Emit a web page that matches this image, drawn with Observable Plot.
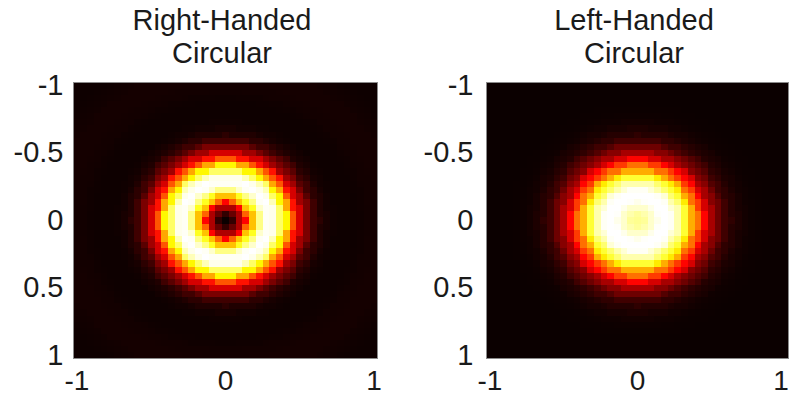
<!DOCTYPE html>
<html>
<head>
<meta charset="utf-8">
<script src="https://cdn.jsdelivr.net/npm/d3@7"></script>
<script src="https://cdn.jsdelivr.net/npm/@observablehq/plot@0.6"></script>
<style>
  html, body { margin: 0; padding: 0; background: #fff; }
  #wrap { position: relative; width: 791px; height: 398px; overflow: hidden; font-family: "Liberation Sans", Arial, sans-serif; }
  .title { position: absolute; text-align: center; font-size: 29px; line-height: 32.5px; color: #1a1a1a; white-space: nowrap; }
  .panel { position: absolute; top: 0; }
  .panel svg { overflow: visible; }
</style>
</head>
<body>
<div id="wrap"></div>
<script>
// Panel titles
const titles = ["Right-Handed\nCircular", "Left-Handed\nCircular"];
// Tick labels
const yTicks = [-1, -0.5, 0, 0.5, 1];
const xTicks = [-1, 0, 1];
const radiusStep = 0.025;
const rightHandedProfile = [
  0.00, 0.02, 0.06, 0.14, 0.25, 0.38, 0.52, 0.66, 0.78, 0.88,
  0.95, 0.99, 1.00, 0.98, 0.93, 0.85, 0.74, 0.62, 0.50, 0.40,
  0.31, 0.23, 0.17, 0.12, 0.08, 0.05, 0.032, 0.02, 0.012, 0.007,
  0.005, 0.004, 0.004, 0.004, 0.004, 0.005, 0.006, 0.008, 0.010, 0.012,
  0.013, 0.014, 0.015, 0.016, 0.016, 0.016, 0.015, 0.013, 0.011, 0.009,
  0.008, 0.006, 0.005, 0.004, 0.004, 0.004, 0.004, 0.004, 0.004, 0.004];
const leftHandedProfile = [
  0.89, 0.89, 0.90, 0.92, 0.95, 0.98, 0.995, 1.00, 1.00, 0.99,
  0.96, 0.92, 0.86, 0.80, 0.72, 0.63, 0.54, 0.46, 0.38, 0.31,
  0.24, 0.19, 0.15, 0.11, 0.08, 0.055, 0.04, 0.028, 0.02, 0.013,
  0.008, 0.005, 0.003, 0.002, 0.001, 0, 0, 0, 0, 0,
  0, 0, 0, 0, 0, 0, 0, 0, 0, 0,
  0, 0, 0, 0, 0, 0, 0, 0, 0, 0];
// Image grid
const gridN = 45;
const half = 1 + 1 / (gridN - 1);

function gridFromProfile(profile) {
  const vals = [];
  for (let j = 0; j < gridN; j++) {
    const y = -1 + j * 2 / (gridN - 1);
    for (let i = 0; i < gridN; i++) {
      const x = -1 + i * 2 / (gridN - 1);
      const r = Math.hypot(x, y);
      const k = Math.min(profile.length - 1, Math.round(r / radiusStep));
      vals.push(profile[k]);
    }
  }
  return vals;
}

const hot = {
  type: "linear",
  domain: [0, 0.375, 0.75, 1],
  range: ["#0b0000", "#ff0000", "#ffff00", "#ffffff"],
  interpolate: "rgb"
};

function panel(values, opts) {
  const axisCommon = { tickFormat: d => String(d), tickSize: 0, tickPadding: 12, fontSize: 28, label: null };
  return Plot.plot({
    width: opts.width,
    height: 398,
    marginLeft: opts.ml,
    marginRight: opts.mr,
    marginTop: 82,
    marginBottom: 40,
    style: { fontFamily: "'Liberation Sans', Arial, sans-serif", fontSize: "28px", color: "#1a1a1a", background: "transparent" },
    x: { domain: [-half, half], label: null },
    y: { domain: [-half, half], reverse: true, label: null },
    color: hot,
    marks: [
      Plot.raster(values, {
        width: gridN, height: gridN,
        x1: -half, x2: half, y1: -half, y2: half,
        fill: d => d,
        imageRendering: "pixelated"
      }),
      Plot.frame({ stroke: "#8a8a8a", strokeWidth: 1 }),
      Plot.axisX({ ...axisCommon, ticks: xTicks.slice(0, -1) }),
      Plot.axisX({ ...axisCommon, ticks: xTicks.slice(-1), dx: opts.lastDx }),
      Plot.axisY({ ticks: yTicks, tickFormat: d => String(d), tickSize: 0, tickPadding: opts.yp, fontSize: 29, label: null })
    ]
  });
}

const wrap = document.getElementById("wrap");

function addPanel(left, width, ml, mr, yp, lastDx, profile, title, titleCenter) {
  const div = document.createElement("div");
  div.className = "panel";
  div.style.left = left + "px";
  div.appendChild(panel(gridFromProfile(profile), { width, ml, mr, yp, lastDx }));
  wrap.appendChild(div);
  const t = document.createElement("div");
  t.className = "title";
  t.style.left = (titleCenter - 150) + "px";
  t.style.width = "300px";
  t.style.top = "4px";
  t.innerHTML = title.split("\n").join("<br>");
  wrap.appendChild(t);
}

addPanel(0, 395, 73, 18, 10, 0, rightHandedProfile, titles[0], 222);
addPanel(395, 396, 91, 3, 13, -4, leftHandedProfile, titles[1], 634);
</script>
</body>
</html>
